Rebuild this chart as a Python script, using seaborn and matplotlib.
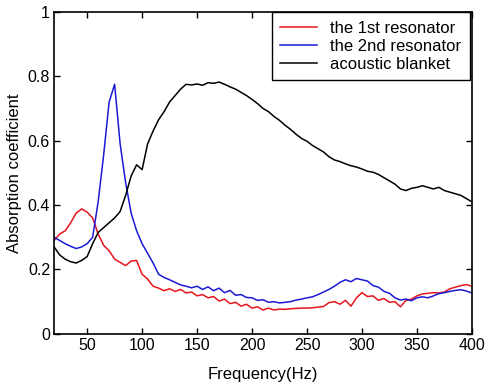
import numpy as np
import pandas as pd
import matplotlib
matplotlib.use("Agg")
import matplotlib.pyplot as plt
import seaborn as sns

# frequency grid (Hz), read every 5 Hz from the figure
freq = list(range(20, 401, 5))

res1 = [0.29, 0.31, 0.32, 0.345, 0.375, 0.388, 0.378, 0.36, 0.31, 0.275,
        0.258, 0.232, 0.222, 0.212, 0.226, 0.228, 0.185, 0.17, 0.148, 0.142,
        0.134, 0.14, 0.132, 0.138, 0.127, 0.13, 0.118, 0.122, 0.112, 0.116,
        0.102, 0.108, 0.094, 0.098, 0.086, 0.092, 0.08, 0.084, 0.074, 0.08,
        0.074, 0.077, 0.076, 0.078, 0.079, 0.08, 0.08, 0.081, 0.083, 0.085,
        0.097, 0.1, 0.092, 0.104, 0.086, 0.112, 0.128, 0.116, 0.118, 0.104,
        0.11, 0.098, 0.1, 0.084, 0.104, 0.108, 0.118, 0.124, 0.126, 0.128,
        0.127, 0.13, 0.14, 0.145, 0.15, 0.153, 0.148]

res2 = [0.30, 0.29, 0.28, 0.272, 0.265, 0.27, 0.28, 0.30, 0.41, 0.555,
        0.72, 0.775, 0.59, 0.47, 0.375, 0.32, 0.28, 0.25, 0.22, 0.185,
        0.175, 0.168, 0.16, 0.152, 0.148, 0.143, 0.148, 0.138, 0.146, 0.134,
        0.142, 0.128, 0.135, 0.12, 0.122, 0.113, 0.112, 0.104, 0.106, 0.098,
        0.1, 0.096, 0.098, 0.1, 0.105, 0.108, 0.112, 0.115, 0.122, 0.13,
        0.138, 0.148, 0.16, 0.168, 0.162, 0.172, 0.168, 0.164, 0.15, 0.145,
        0.132, 0.126, 0.112, 0.105, 0.108, 0.103, 0.112, 0.115, 0.112, 0.118,
        0.125, 0.128, 0.132, 0.135, 0.137, 0.133, 0.127]

blanket = [0.27, 0.245, 0.232, 0.224, 0.22, 0.228, 0.24, 0.28, 0.315, 0.33,
           0.345, 0.36, 0.38, 0.43, 0.49, 0.525, 0.51, 0.59, 0.63, 0.665,
           0.69, 0.72, 0.74, 0.76, 0.775, 0.773, 0.776, 0.772, 0.78, 0.778,
           0.782, 0.775, 0.767, 0.76, 0.75, 0.74, 0.728, 0.715, 0.70, 0.69,
           0.675, 0.663, 0.648, 0.635, 0.62, 0.607, 0.598, 0.585, 0.575, 0.565,
           0.55, 0.54, 0.535, 0.528, 0.522, 0.518, 0.512, 0.505, 0.502, 0.495,
           0.485, 0.475, 0.465, 0.45, 0.445, 0.452, 0.455, 0.46, 0.455, 0.45,
           0.455, 0.445, 0.44, 0.435, 0.43, 0.42, 0.41]

labels = ["the 1st resonator", "the 2nd resonator", "acoustic blanket"]
colors = ["#e8141c", "#1a1ad6", "black"]

df = pd.concat([
    pd.DataFrame({"freq": freq, "alpha": vals, "series": lab})
    for vals, lab in zip([res1, res2, blanket], labels)
])

plt.rcParams["font.family"] = ["Liberation Sans", "DejaVu Sans"]
fig = plt.figure(figsize=(4.88, 3.82), dpi=100)
ax = fig.add_axes([0.111, 0.126, 0.856, 0.843])

sns.lineplot(data=df, x="freq", y="alpha", hue="series", palette=colors,
             hue_order=labels, linewidth=1.1, ax=ax, legend=False, sort=False)

ax.set_xlim(20, 400)
ax.set_ylim(0, 1)
ax.set_xticks([50, 100, 150, 200, 250, 300, 350, 400])
ax.set_yticks([0, 0.2, 0.4, 0.6, 0.8, 1])
ax.set_yticklabels(["0", "0.2", "0.4", "0.6", "0.8", "1"])
ax.tick_params(direction="in", length=4, width=1, top=True, right=True,
               labelsize=11.5, pad=3)
for s in ax.spines.values():
    s.set_linewidth(1.2)
    s.set_color("black")
ax.set_xlabel("Frequency(Hz)", fontsize=12, labelpad=10)
ax.set_ylabel("Absorption coefficient", fontsize=12, labelpad=4)

handles = [plt.Line2D([], [], color=c, lw=1.1) for c in colors]
leg = ax.legend(handles, labels, loc="upper right", bbox_to_anchor=(0.995, 0.998),
                borderaxespad=0.0, fancybox=False, edgecolor="black",
                framealpha=1, fontsize=12, handlelength=2.2,
                labelspacing=0.18, borderpad=0.5, handletextpad=0.8)
leg.get_frame().set_linewidth(1.0)

fig.savefig("out.png", dpi=100)
